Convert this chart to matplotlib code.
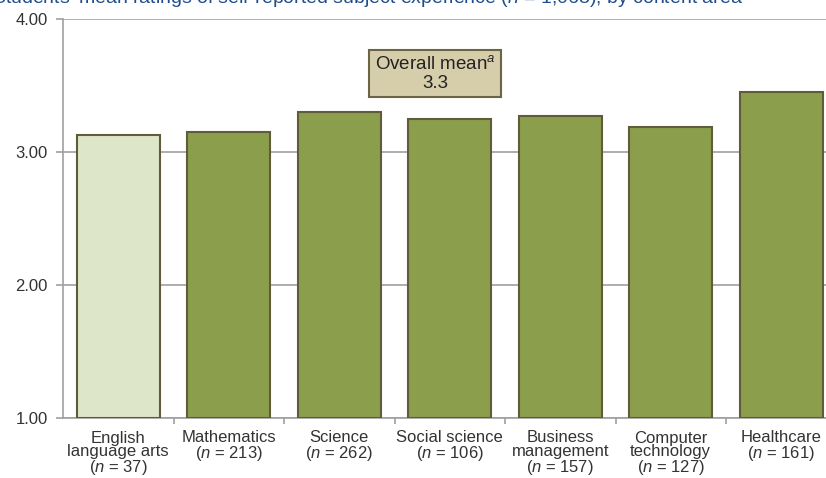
import matplotlib
matplotlib.use("Agg")
import matplotlib.pyplot as plt

categories = ["English\nlanguage arts", "Mathematics", "Science", "Social science",
              "Business\nmanagement", "Computer\ntechnology", "Healthcare"]
n_values = [37, 213, 262, 106, 157, 127, 161]
means = [3.13, 3.15, 3.30, 3.25, 3.27, 3.19, 3.45]
yticks = [1.00, 2.00, 3.00, 4.00]
overall_mean = 3.3

plt.rcParams['font.family'] = ['Liberation Sans', 'DejaVu Sans']
plt.rcParams['mathtext.fontset'] = 'custom'
plt.rcParams['mathtext.it'] = 'Liberation Sans:italic'
plt.rcParams['mathtext.rm'] = 'Liberation Sans'

fig = plt.figure(figsize=(8.26, 4.78), dpi=100)
ax = fig.add_axes([63/826, 60/478, 773.5/826, 399/478])

x = list(range(len(categories)))
colors = ['#DDE6C8'] + ['#8A9E4B'] * (len(categories) - 1)
ax.bar(x, [m - 1 for m in means], bottom=1, width=0.75, color=colors,
       edgecolor='#5F5B3B', linewidth=1.5, zorder=3)

ax.set_xlim(-0.5, len(categories) - 0.5)
ax.set_ylim(1, 4)
ax.set_yticks(yticks)
ax.set_yticklabels([f"{v:.2f}" for v in yticks], fontsize=12, color='#333333')
ax.yaxis.grid(True, color='#A0A0A0', linewidth=1.2, zorder=0)
ax.set_axisbelow(True)

ax.set_xticks([i + 0.5 for i in range(len(categories) - 1)])
ax.set_xticklabels([])
ax.set_xticks(x, minor=True)
labels = [f"{c}\n($\\it{{n}}$ = {n})" for c, n in zip(categories, n_values)]
ax.set_xticklabels(labels, minor=True, fontsize=12, color='#333333', linespacing=0.9)
ax.tick_params(axis='x', which='minor', length=0, pad=9)
ax.tick_params(axis='x', which='major', length=4, color='#A0A0A0', width=1.2)
ax.tick_params(axis='y', length=5, color='#A0A0A0', width=1.2, pad=6)

for s in ['top', 'right']:
    ax.spines[s].set_visible(False)
for s in ['left', 'bottom']:
    ax.spines[s].set_color('#A0A0A0')
    ax.spines[s].set_linewidth(1.2)

ax.text(2.87, 3.59, f"Overall mean$^{{a}}$\n{overall_mean}", ha='center', va='center',
        fontsize=13.5, color='#222222', linespacing=1.1, zorder=5,
        bbox=dict(boxstyle='square,pad=0.3', facecolor='#D6CDAA', edgecolor='#6B6545', linewidth=1.5))

fig.text(-0.01, 1 - 3/478, "Students' mean ratings of self-reported subject experience ($\\it{n}$ = 1,063), by content area",
         ha='left', va='baseline', fontsize=14, color='#1F4E8C')

fig.savefig("out.png", dpi=100)
